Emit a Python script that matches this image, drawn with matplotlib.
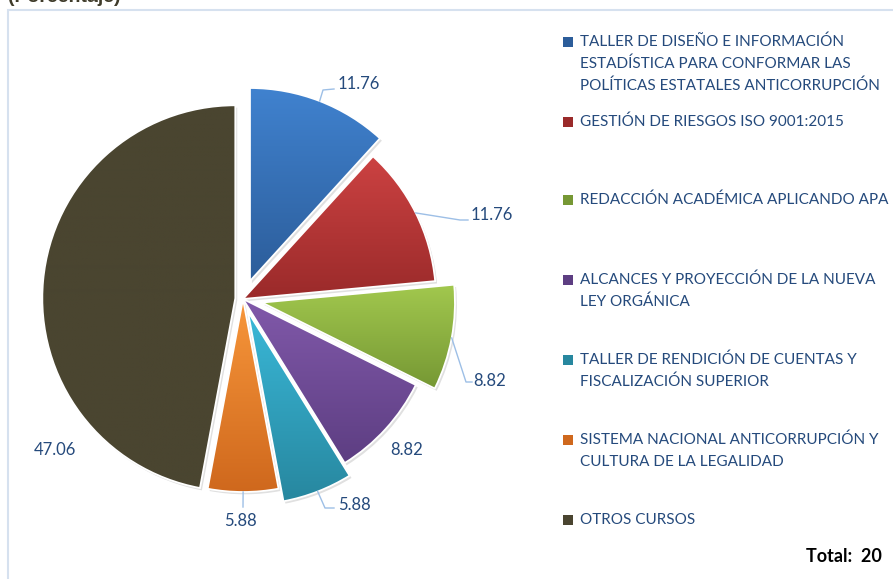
import matplotlib
matplotlib.use('Agg')
import matplotlib.pyplot as plt
import numpy as np
from matplotlib.patches import Wedge, Rectangle
from matplotlib.colors import to_rgb

# ---------------- data ----------------
categories = [
    ["TALLER DE DISEÑO E INFORMACIÓN", "ESTADÍSTICA PARA CONFORMAR LAS", "POLÍTICAS ESTATALES ANTICORRUPCIÓN"],
    ["GESTIÓN DE RIESGOS ISO 9001:2015"],
    ["REDACCIÓN ACADÉMICA APLICANDO APA"],
    ["ALCANCES Y PROYECCIÓN DE LA NUEVA", "LEY ORGÁNICA"],
    ["TALLER DE RENDICIÓN DE CUENTAS Y", "FISCALIZACIÓN SUPERIOR"],
    ["SISTEMA NACIONAL ANTICORRUPCIÓN Y", "CULTURA DE LA LEGALIDAD"],
    ["OTROS CURSOS"],
]
values = [11.76, 11.76, 8.82, 8.82, 5.88, 5.88, 47.06]
value_labels = ["11.76", "11.76", "8.82", "8.82", "5.88", "5.88", "47.06"]
title = "(Porcentaje)"
total_label = "Total:  20"

# ---------------- styles ----------------
explode = [0.10, 0.0, 0.10, 0.0, 0.07, 0.0, 0.04]
top_colors = ["#4082cf", "#cc4242", "#a2c84e", "#8159aa", "#3ab8d8", "#f8973b", "#4a4530"]
bot_colors = ["#2c5d9a", "#9a2a2a", "#769834", "#5d3e82", "#27879f", "#cf681d", "#4a4530"]
text_blue = "#254a7c"
leader_col = "#9dbfe6"
FONT = "Lato"

W, H = 893, 579
CX, CY, R = 243, 299, 193  # pie centre / radius in pixels


def px(x, y):
    return ((x - CX) / R, (CY - y) / R)


fig = plt.figure(figsize=(W / 100, H / 100), dpi=100)
ax = fig.add_axes([0, 0, 1, 1])

wedges, _ = ax.pie(values, explode=explode, startangle=90, counterclock=False,
                   colors=top_colors, radius=1, center=(0, 0), frame=False,
                   wedgeprops=dict(linewidth=1.3, edgecolor="white"))

for w, c1, c2 in zip(wedges, top_colors, bot_colors):
    # soft shadow
    cx, cy = w.center
    sh = Wedge((cx + 0.010, cy - 0.012), w.r, w.theta1, w.theta2,
               facecolor="#000000", alpha=0.12, linewidth=0, zorder=1)
    ax.add_patch(sh)
    # vertical gradient fill clipped to wedge
    bb = w.get_path().get_extents()
    t = np.linspace(0, 1, 256)[:, None, None]
    a = np.array(to_rgb(c1))[None, None, :]
    b = np.array(to_rgb(c2))[None, None, :]
    img = a * (1 - t) + b * t
    im = ax.imshow(img, extent=[bb.x0, bb.x1, bb.y0, bb.y1], origin="upper",
                   aspect="auto", interpolation="bilinear", zorder=2)
    im.set_clip_path(w)
    w.set_facecolor("none")
    w.set_zorder(3)

# ---------------- value labels + leader lines ----------------
label_px = [(338, 84, "left"), (471, 215, "left"), (473, 381, "left"),
            (407, 450, "center"), (338, 505, "left"), (240, 521, "center"),
            (55, 450, "center")]
leader_px = [
    [(323, 90), (334, 89)],
    [(460, 220), (468, 220)],
    [(466, 382), (472, 382)],
    None,
    [(325, 508), (334, 508)],
    [(243, 507)],
    None,
]
for w, lab, (lx, ly, ha), ld in zip(wedges, value_labels, label_px, leader_px):
    if ld is not None:
        mid = np.deg2rad((w.theta1 + w.theta2) / 2)
        sx = w.center[0] + w.r * np.cos(mid)
        sy = w.center[1] + w.r * np.sin(mid)
        pts = [(sx, sy)] + [px(*p) for p in ld]
        xs, ys = zip(*pts)
        ax.plot(xs, ys, color=leader_col, lw=1.0, zorder=4)
    x, y = px(lx, ly)
    ax.text(x, y, lab, ha=ha, va="center", fontsize=12, color=text_blue,
            family=FONT, zorder=5)

# ---------------- legend ----------------
legend_y = [42, 122, 200, 280, 360, 440, 520]
for cat, y0, c1, c2 in zip(categories, legend_y, top_colors, bot_colors):
    x0, yy = px(563, y0 + 5)
    ax.add_patch(Rectangle((x0, yy), 10 / R, 10 / R, facecolor=c2 if c2 != c1 else c1,
                           edgecolor="none", zorder=5))
    for k, line in enumerate(cat):
        x, y = px(580, y0 + 22 * k)
        ax.text(x, y, line, ha="left", va="center", fontsize=11, color=text_blue,
                family=FONT, zorder=5)

# ---------------- frame / title / total ----------------
bx, by = px(8, 10)
bx2, by2 = px(905, 600)
ax.add_patch(Rectangle((bx, by2), bx2 - bx, by - by2, fill=False,
                       edgecolor="#d6e1ef", lw=1.5, zorder=0))
tx, ty = px(8, 2)
ax.text(tx, ty, title, ha="left", va="baseline", fontsize=14, fontweight="bold",
        color="#3f3b2a", family="Liberation Sans")
tx, ty = px(882, 556)
ax.text(tx, ty, total_label, ha="right", va="center", fontsize=13,
        fontweight="bold", color="black", family=FONT)

ax.set_xlim(px(0, 0)[0], px(W, 0)[0])
ax.set_ylim(px(0, H)[1], px(0, 0)[1])
ax.set_aspect("auto")
ax.axis("off")
fig.savefig("out.png", dpi=100, facecolor="white")
